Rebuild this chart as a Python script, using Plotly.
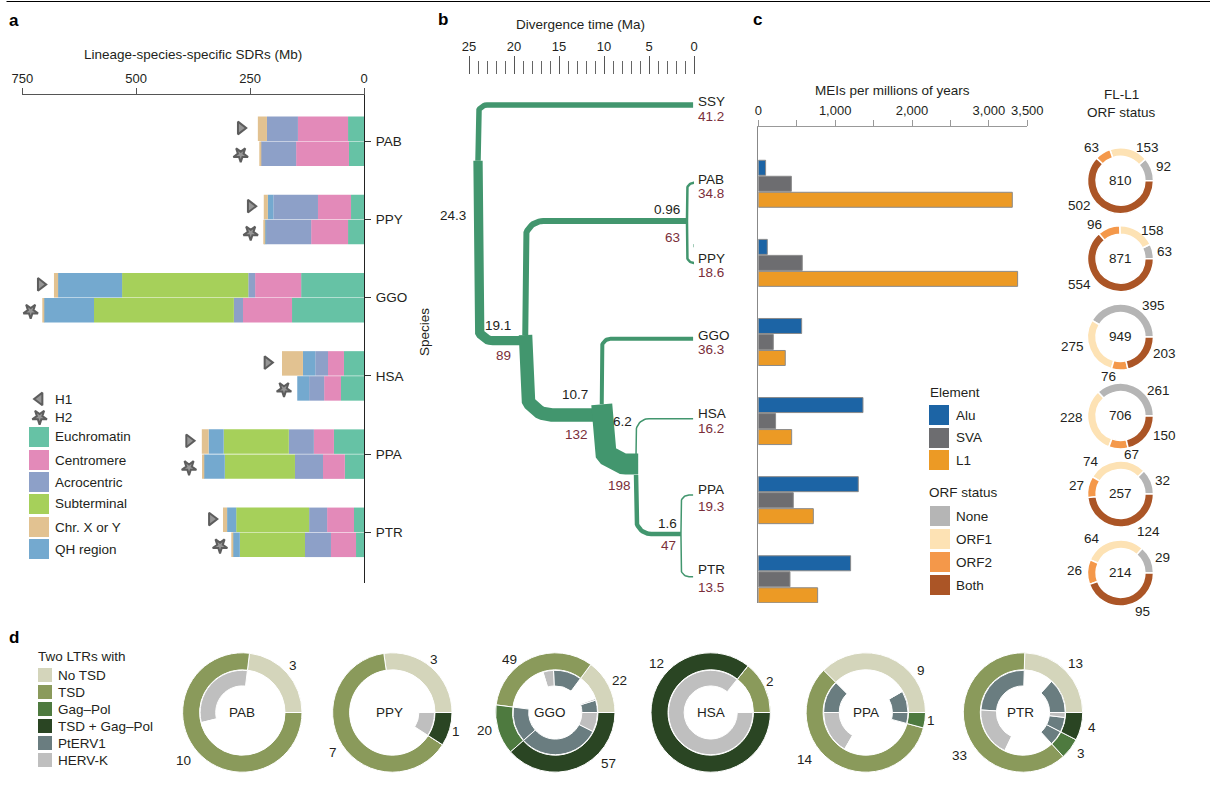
import numpy as np
import plotly.graph_objects as go

W, H = 1210, 790
FONT = "Liberation Sans"
INK = "#231f20"
RED = "#7a2e3a"
GREEN = "#42966e"

# ---------- panel a ----------
species_a = ["PAB", "PPY", "GGO", "HSA", "PPA", "PTR"]
euchromatin = [35, 33, 28.5, 35, 138, 158, 44, 50.5, 66, 42, 22, 17.5]
centromere = [110, 116, 72.5, 81, 101, 107.6, 35, 37, 44, 48, 59, 55]
acrocentric = [68, 77, 98, 99, 15, 20, 28, 33, 55, 61.5, 39.5, 57]
subterminal = [0, 0, 0, 0, 277, 307, 0, 0, 143, 154, 160, 143]
qh_region = [0, 0, 12, 3, 140.5, 110, 27, 26, 33, 46, 20, 15]
chr_xy = [20, 2, 9, 1, 9, 2, 46, 0, 15, 4, 9, 2]
hap_marker_x = [270.6, 270.6, 248.7, 248.7, 709.6, 731.6, 212, 175.6, 384, 384, 334, 316]

# ---------- panel b ----------
time_ticks = [25, 20, 15, 10, 5, 0]
tip_names = ["SSY", "PAB", "PPY", "GGO", "HSA", "PPA", "PTR"]
tip_sizes = ["41.2", "34.8", "18.6", "36.3", "16.2", "19.3", "13.5"]
branch_age = [24.0, 24.0, 18.75, 18.72, 10.25, 10.25, 6.44, 6.44, 0.78, 0.78, 1.45, 1.45]
branch_rank_from = [0.709, 0.709, 2.926, 2.926, 3.808, 3.808, 4.440, 4.707, 1.476, 1.476, 5.458, 5.458]
branch_rank_to = [0.0, 2.999, 1.476, 3.944, 4.567, 2.973, 3.991, 5.458, 0.989, 2.010, 4.962, 6.001]
branch_age_end = [0.1, 19.1, 0.78, 10.8, 6.2, 0.1, 0.1, 1.45, 0.1, 0.1, 0.1, 0.1]
branch_width = [5.5, 9.3, 6, 13.5, 21, 4, 1.5, 4.5, 2.5, 2.5, 1.5, 1.5]
branch_radius = [9, 15, 18, 26, 24, 9, 13, 15, 7, 7, 8, 8]

# ---------- panel c ----------
mei_species = ["PAB", "PPY", "GGO", "HSA", "PPA", "PTR"]
alu = [95, 117, 564, 1362, 1301, 1201]
sva = [430, 572, 195, 225, 455, 412]
l1 = [3305, 3374, 351, 434, 716, 772]
orf_none = [92, 63, 395, 261, 32, 29]
orf_1 = [153, 158, 275, 228, 74, 64]
orf_2 = [63, 96, 76, 67, 27, 26]
orf_both = [502, 554, 203, 150, 124, 95]
orf_total = [810, 871, 949, 706, 257, 214]

# ---------- panel d ----------
ltr_names = ["PAB", "PPY", "GGO", "HSA", "PPA", "PTR"]
no_tsd = [3, 3, 22, 0, 9, 13]
tsd = [10, 7, 49, 2, 14, 33]
gag_pol = [0, 0, 20, 0, 1, 3]
tsd_gag_pol = [0, 1, 57, 12, 0, 4]
inner_pab = [3, 4, 6]
inner_pab_kind = ["n", "H", "n"]
inner_ppy = [10, 1]
inner_ppy_kind = ["n", "H"]
inner_ggo = [7, 1, 14, 16, 6, 27, 20, 46, 11]
inner_ggo_kind = ["P", "H", "n", "P", "H", "n", "P", "P", "H"]
inner_hsa = [2, 12]
inner_hsa_kind = ["n", "H"]
inner_ppa = [2, 7, 3, 4, 7, 1]
inner_ppa_kind = ["P", "n", "P", "H", "n", "P"]
inner_ptr = [7, 6, 13, 10, 10, 3, 3, 1]
inner_ptr_kind = ["P", "n", "P", "H", "n", "P", "P", "H"]

# ---------- styling ----------
A_COLORS = {"Euchromatin": "#66c2a5", "Centromere": "#e38ab9", "Acrocentric": "#8da0c8",
            "Subterminal": "#a6d05a", "Chr. X or Y": "#e2c291", "QH region": "#74a9cf"}
C_COLORS = {"Alu": "#1c64a5", "SVA": "#6d6d70", "L1": "#ec9a25"}
O_COLORS = {"None": "#b5b5b5", "ORF1": "#fde2b4", "ORF2": "#f4984a", "Both": "#ab5526"}
D_COLORS = {"No TSD": "#d4d5bb", "TSD": "#8a9a5b", "Gag–Pol": "#4e7a3f",
            "TSD + Gag–Pol": "#2a4523", "PtERV1": "#6a7d80", "HERV-K": "#bfbfbf"}
KIND = {"n": "#ffffff", "P": D_COLORS["PtERV1"], "H": D_COLORS["HERV-K"]}


def X(px):
    return px / W


def Y(py):
    return 1 - py / H


fig = go.Figure()
ann = []
shapes = []


def txt(px, py, s, color=INK, size=13.5, anchor="center", bold=False, angle=0):
    ann.append(dict(xref="paper", yref="paper", x=X(px), y=Y(py), text=f"<b>{s}</b>" if bold else s,
                    showarrow=False, xanchor=anchor, yanchor="middle", textangle=angle,
                    borderpad=0, borderwidth=0,
                    font=dict(family=FONT, size=size, color=color)))


def rect(x0, y0, x1, y1, color):
    shapes.append(dict(type="rect", xref="paper", yref="paper", x0=X(x0), x1=X(x1), y0=Y(y0), y1=Y(y1),
                       fillcolor=color, line=dict(width=0), layer="above"))


def ccw_pie(values, colors, cx, cy, R, hole, lw):
    # first slice runs counterclockwise from 3 o'clock
    rotation = 90 - 360 * values[0] / sum(values)
    fig.add_trace(go.Pie(values=values,
                         domain=dict(x=[X(cx - R), X(cx + R)], y=[Y(cy + R), Y(cy - R)]),
                         hole=hole, sort=False, direction="counterclockwise", rotation=rotation,
                         textinfo="none", hoverinfo="skip", showlegend=False,
                         marker=dict(colors=colors, line=dict(color="white", width=lw))))


# ---------- a: stacked bars ----------
hap_y = []
for i in range(len(species_a)):
    hap_y += [i - 0.16, i + 0.16]
cum = np.zeros(len(hap_y))
for name, vals in [("Euchromatin", euchromatin), ("Centromere", centromere), ("Acrocentric", acrocentric),
                   ("Subterminal", subterminal), ("QH region", qh_region), ("Chr. X or Y", chr_xy)]:
    fig.add_trace(go.Bar(x=vals, y=hap_y, base=cum.tolist(), orientation="h", width=0.313, name=name,
                         marker=dict(color=A_COLORS[name], line=dict(width=0)),
                         xaxis="x", yaxis="y", showlegend=False, hoverinfo="skip"))
    cum = cum + np.array(vals)

marker_y = []
for i in range(len(species_a)):
    marker_y += [i - 0.17, i + 0.17]
sym = ["triangle-right", "star"] * len(species_a)
ang = [0, 180] * len(species_a)
sizes = [11, 11] * len(species_a)
fig.add_trace(go.Scatter(x=hap_marker_x, y=marker_y, mode="markers", xaxis="x", yaxis="y",
                         marker=dict(symbol=sym, angle=ang, size=sizes, color="#6a6a6a",
                                     line=dict(color="#1a1a1a", width=2)),
                         showlegend=False, hoverinfo="skip", cliponaxis=False))
fig.add_trace(go.Scatter(x=[712, 712], y=[3.295, 3.525], mode="markers", xaxis="x", yaxis="y",
                         marker=dict(symbol=["triangle-left", "star"], angle=[0, 180], size=[11, 11], color="#6a6a6a",
                                     line=dict(color="#1a1a1a", width=2)),
                         showlegend=False, hoverinfo="skip", cliponaxis=False))
txt(193, 54, "Lineage-species-specific SDRs (Mb)")
txt(55, 399, "H1", anchor="left")
txt(55, 417, "H2", anchor="left")
for j, name in enumerate(["Euchromatin", "Centromere", "Acrocentric", "Subterminal", "Chr. X or Y", "QH region"]):
    y0 = [427, 450, 472, 494, 517, 539][j]
    rect(29, y0, 49, y0 + 20, A_COLORS[name])
    txt(55, y0 + 10, name, anchor="left")

# ---------- b: tree ----------
PX_MA = 9.0
PX_RANK = 78.6
for a0, r0, r1, a1, w, rad in zip(branch_age, branch_rank_from, branch_rank_to, branch_age_end,
                                  branch_width, branch_radius):
    th = np.linspace(0, np.pi / 2, 14)
    sgn = 1 if r1 > r0 else -1
    xs_px = rad * (1 - np.cos(th))
    ys_px = rad * np.sin(th)
    xs = [a0] + list(a0 - xs_px / PX_MA) + [a1]
    ys = [r0] + list(r1 - sgn * (rad - ys_px) / PX_RANK) + [r1]
    fig.add_trace(go.Scatter(x=xs, y=ys, mode="lines", xaxis="x2", yaxis="y2", cliponaxis=False,
                             line=dict(color=GREEN, width=w), showlegend=False, hoverinfo="skip"))
fig.add_trace(go.Scatter(x=[0.0, 0.0], y=[1.77, 1.81], mode="lines", xaxis="x2", yaxis="y2", cliponaxis=False,
                         line=dict(color=GREEN, width=1), showlegend=False, hoverinfo="skip"))
txt(580, 25, "Divergence time (Ma)")
txt(424, 332, "Species", angle=-90)
tip_y = [(101, 116), (179, 194), (258, 272), (335, 349), (413, 428), (489, 506), (569, 587)]
for nm, sz, (y1, y2) in zip(tip_names, tip_sizes, tip_y):
    txt(698, y1, nm, anchor="left")
    txt(698, y2, sz, color=RED, anchor="left")
for px, py, s in [(453, 215.5, "24.3"), (667, 209, "0.96"), (498, 325, "19.1"), (575, 394, "10.7"),
                  (622, 422, "6.2"), (667, 523, "1.6")]:
    txt(px, py, s)
for px, py, s in [(672.7, 237, "63"), (503, 356, "89"), (576, 434, "132"), (619, 485, "198"), (668, 545, "47")]:
    txt(px, py, s, color=RED)

# ---------- c: bars ----------
for k, (name, vals) in enumerate([("Alu", alu), ("SVA", sva), ("L1", l1)]):
    fig.add_trace(go.Bar(x=vals, y=list(range(len(mei_species))), orientation="h", name=name,
                         width=15 / 79.1, offset=(-1.5 + k) * 16 / 79.1 + 0.5 / 79.1,
                         marker=dict(color=C_COLORS[name], line=dict(color="#8a8a8a", width=1)),
                         xaxis="x3", yaxis="y3", showlegend=False, hoverinfo="skip"))
txt(892.7, 90.7, "MEIs per millions of years")
txt(1121, 95, "FL-L1")
txt(1121, 113, "ORF status")
txt(930, 392, "Element", anchor="left")
for j, name in enumerate(["Alu", "SVA", "L1"]):
    y0 = [405, 428, 450][j]
    rect(929, y0, 949, y0 + 20, C_COLORS[name])
    txt(956, y0 + 10, name, anchor="left")
txt(929, 492, "ORF status", anchor="left")
for j, name in enumerate(["None", "ORF1", "ORF2", "Both"]):
    y0 = [506, 529, 552, 575][j]
    rect(930, y0, 950, y0 + 20, O_COLORS[name])
    txt(956, y0 + 10, name, anchor="left")

orf_cy = [180.7, 258.7, 337, 416, 494, 573]
for i, cy in enumerate(orf_cy):
    ccw_pie([orf_none[i], orf_1[i], orf_2[i], orf_both[i]], list(O_COLORS.values()), 1120.5, cy, 33, 0.74, 1.5)
    txt(1120, cy - 0.5, str(orf_total[i]))
orf_labels = [
    (1091.7, 147, orf_2[0]), (1147, 147, orf_1[0]), (1163.7, 166.7, orf_none[0]), (1079, 205, orf_both[0]),
    (1094.7, 225, orf_2[1]), (1152, 230.7, orf_1[1]), (1164, 252, orf_none[1]), (1079, 284.7, orf_both[1]),
    (1153, 305, orf_none[2]), (1072, 346, orf_1[2]), (1108, 376, orf_2[2]), (1164, 354, orf_both[2]),
    (1158, 390, orf_none[3]), (1071, 417, orf_1[3]), (1131, 455, orf_2[3]), (1164, 435, orf_both[3]),
    (1091, 461, orf_1[4]), (1076, 486, orf_2[4]), (1162, 480, orf_none[4]), (1148, 531, orf_both[4]),
    (1092, 538, orf_1[5]), (1074, 570, orf_2[5]), (1162, 557, orf_none[5]), (1142, 611, orf_both[5]),
]
for px, py, v in orf_labels:
    txt(px, py, str(v))

# ---------- d: nested donuts ----------
d_cx = [242.3, 392.3, 555.3, 710.7, 865.8, 1023]
d_cy = 712.5
d_label_x = [242, 389, 550, 710.7, 866, 1020.7]
inner_vals = [inner_pab, inner_ppy, inner_ggo, inner_hsa, inner_ppa, inner_ptr]
inner_kinds = [inner_pab_kind, inner_ppy_kind, inner_ggo_kind, inner_hsa_kind, inner_ppa_kind, inner_ptr_kind]
outer_cols = [D_COLORS["No TSD"], D_COLORS["TSD"], D_COLORS["Gag–Pol"], D_COLORS["TSD + Gag–Pol"]]
for i, cx in enumerate(d_cx):
    ccw_pie([no_tsd[i], tsd[i], gag_pol[i], tsd_gag_pol[i]], outer_cols, cx, d_cy, 59.7, 0.715, 1)
    ccw_pie(inner_vals[i], [KIND[k] for k in inner_kinds[i]], cx, d_cy, 42.2, 0.63, 1)
    txt(d_label_x[i], 712, ltr_names[i])
d_labels = [
    (293.3, 665, no_tsd[0]), (183, 760, tsd[0]),
    (434, 659, no_tsd[1]), (332.7, 752.3, tsd[1]), (455.7, 731.7, tsd_gag_pol[1]),
    (619.3, 680, no_tsd[2]), (509, 659, tsd[2]), (484, 730.7, gag_pol[2]), (608, 763, tsd_gag_pol[2]),
    (770, 681.7, tsd[3]), (656.7, 663, tsd_gag_pol[3]),
    (920.7, 670, no_tsd[4]), (805, 759.3, tsd[4]), (930.7, 720.7, gag_pol[4]),
    (1075.3, 663, no_tsd[5]), (959.7, 755.7, tsd[5]), (1080.7, 753.3, gag_pol[5]), (1092.3, 727.3, tsd_gag_pol[5]),
]
for px, py, v in d_labels:
    txt(px, py, str(v))
txt(38, 656.3, "Two LTRs with", anchor="left")
for j, name in enumerate(D_COLORS):
    y0 = [668, 685, 702, 719, 736, 753][j]
    rect(38, y0, 52, y0 + 14, D_COLORS[name])
    txt(58, y0 + 7, name, anchor="left")

# panel letters + rule
for px, py, s in [(14, 20, "a"), (443, 19, "b"), (757, 19, "c"), (14, 637, "d")]:
    txt(px, py, s, size=17, bold=True, color="#000000")
shapes.append(dict(type="line", xref="paper", yref="paper", x0=X(6.5), x1=1, y0=Y(1.5), y1=Y(1.5),
                   line=dict(color="#000000", width=1)))

fig.update_layout(
    width=W, height=H, margin=dict(l=0, r=0, t=0, b=0, pad=0, autoexpand=False), autosize=False,
    paper_bgcolor="white", plot_bgcolor="white", showlegend=False,
    font=dict(family=FONT, size=13, color=INK),
    barmode="overlay",
    annotations=ann, shapes=shapes,
    xaxis=dict(domain=[X(22.3), X(364)], range=[750, 0], side="top", anchor="y",
               tickvals=[750, 500, 250, 0], ticks="outside", ticklen=6, tickcolor="#555555",
               showline=True, linecolor="#555555", linewidth=1, showgrid=False, zeroline=False,
               ticklabelstandoff=0),
    yaxis=dict(domain=[Y(583), Y(95)], range=[5.648, -0.592], side="right", anchor="x",
               tickvals=list(range(6)), ticktext=species_a, ticks="outside", ticklen=6, tickcolor="#333333",
               tickfont=dict(size=13.5),
               showline=True, linecolor="#222222", linewidth=1, showgrid=False, zeroline=False,
               ticklabelstandoff=2),
    xaxis2=dict(domain=[X(469), X(694)], range=[25, 0], side="top", anchor="y2",
                tickvals=time_ticks, ticks="outside", ticklen=18, tickwidth=1.2, tickcolor="#555555",
                minor=dict(dtick=1, tick0=0, ticks="outside", ticklen=13, tickwidth=1, tickcolor="#666666",
                           showgrid=False),
                showline=False, showgrid=False, zeroline=False, ticklabelstandoff=0),
    yaxis2=dict(domain=[Y(600), Y(75)], range=[6.298, -0.382], anchor="x2", visible=False),
    xaxis3=dict(domain=[X(758.3), X(1027.3)], range=[0, 3500], side="top", anchor="y3",
                tickvals=[0, 500, 1000, 1500, 2000, 2500, 3000, 3500],
                ticktext=["0", "", "1,000", "", "2,000", "", "3,000", "3,500"],
                ticks="outside", ticklen=6, tickcolor="#999999",
                showline=True, linecolor="#999999", linewidth=1, showgrid=False, zeroline=False,
                ticklabelstandoff=0),
    yaxis3=dict(domain=[Y(603), Y(127.3)], range=[5.30, -0.714], anchor="x3",
                showline=True, linecolor="#888888", linewidth=1.2, showgrid=False, zeroline=False,
                ticks="", showticklabels=False),
)

fig.write_html("out.html", config={"displayModeBar": False},
               post_script="document.body.style.margin='0';document.body.style.overflow='hidden';")
